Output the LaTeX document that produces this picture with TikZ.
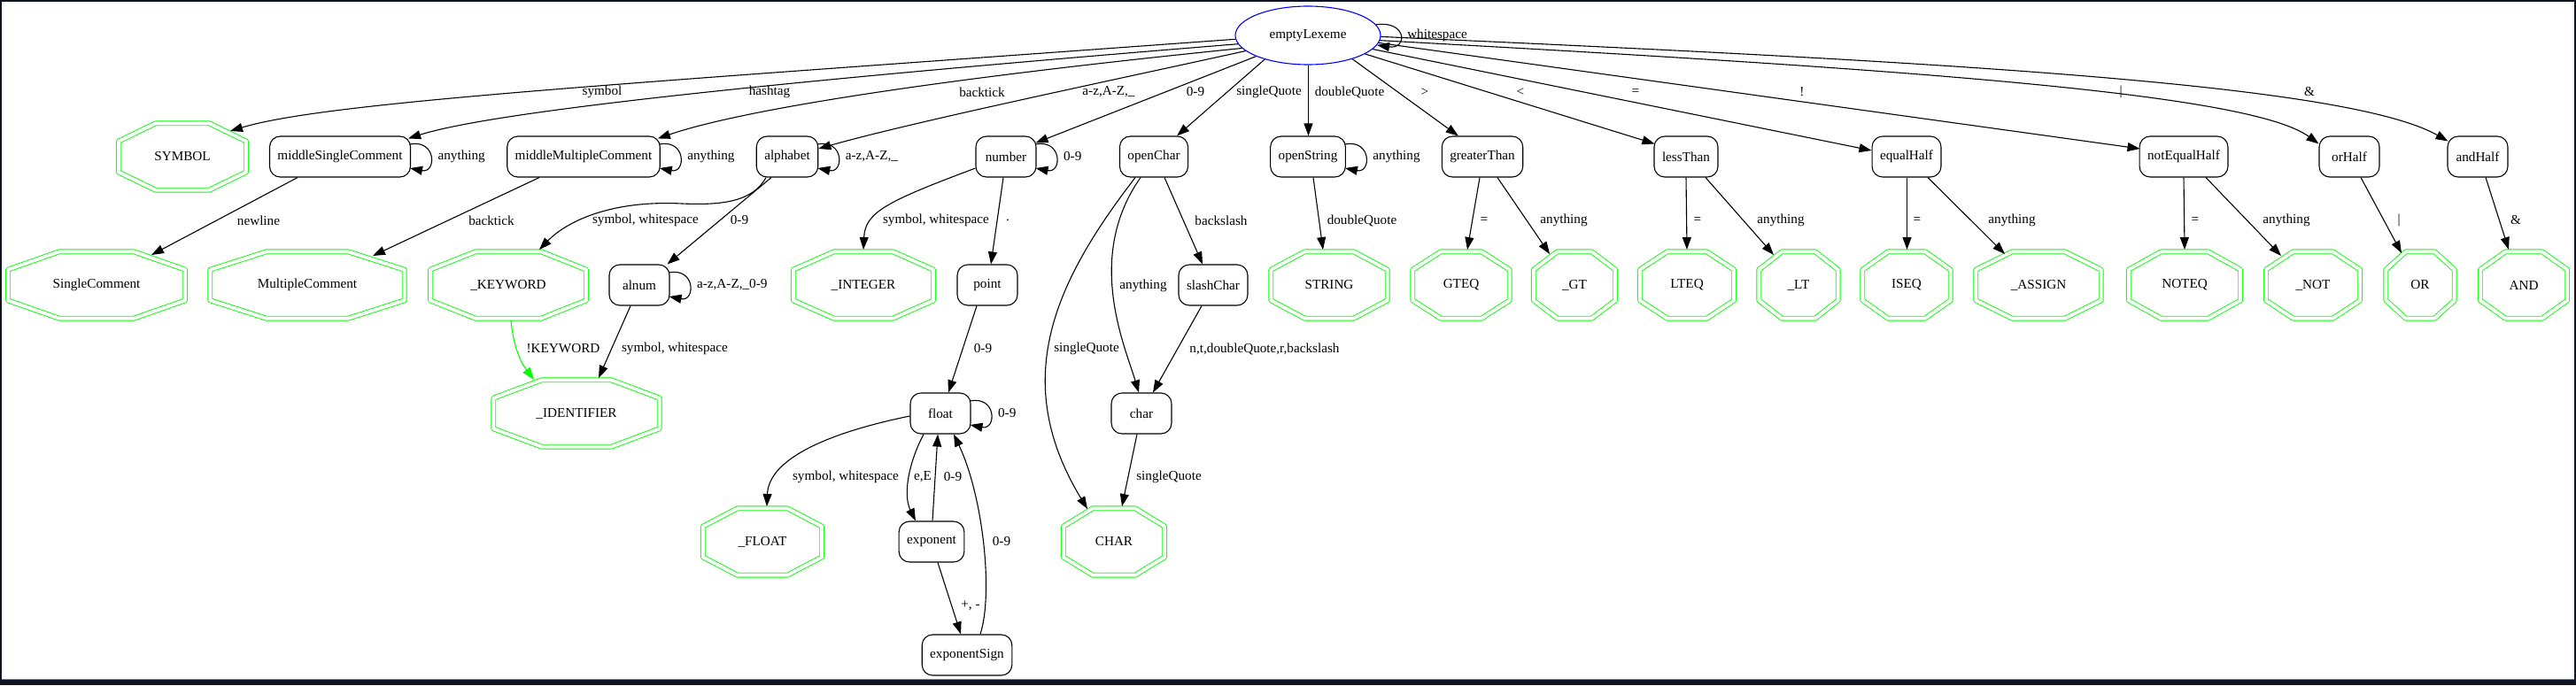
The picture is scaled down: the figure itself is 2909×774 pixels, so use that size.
\documentclass[tikz,border=0pt]{standalone}
\usepackage{fontspec}
\setmainfont{Liberation Serif}
\usetikzlibrary{arrows.meta, calc, shapes.geometric}
\definecolor{framebg}{RGB}{14,20,36}

\begin{document}
\begin{tikzpicture}[x=1pt, y=-1pt,
      font=\fontsize{15.2}{18}\selectfont,
      state/.style={draw, rounded corners=12pt, line width=1.1pt,
                  minimum width=68, minimum height=46, inner xsep=9pt},
      start/.style={draw=blue, ellipse, line width=1.1pt,
                  minimum width=164, minimum height=66},
      final/.style={minimum width=#1, minimum height=75, inner sep=0pt},
      octo/.style={draw=green, double, double distance=4pt, line width=0.9pt, line join=round},
      lbl/.style={inner sep=1pt},
      arr/.style={-{Triangle[length=14pt,width=10pt]}, line width=1.1pt},
]
\useasboundingbox (0,0) rectangle (2909,774);
\fill[framebg] (0,0) rectangle (2909,774);
\fill[white] (2,2) rectangle (2907,767);
\draw[gray, line width=1pt] (2,767.5) -- (2907,767.5);

\node[start] (E) at (1477,40) {emptyLexeme};

% first row
\node[final=144] (sym) at (206,177) {SYMBOL};
\node[state] (msc) at (384,177) {middleSingleComment};
\node[state] (mmc) at (659,177) {middleMultipleComment};
\node[state] (alpha) at (889,177) {alphabet};
\node[state] (num) at (1136,177) {number};
\node[state] (opc) at (1303,177) {openChar};
\node[state] (ops) at (1477,177) {openString};
\node[state] (gt) at (1674,177) {greaterThan};
\node[state] (lt) at (1904,177) {lessThan};
\node[state] (eqh) at (2153,177) {equalHalf};
\node[state] (neh) at (2466,177) {notEqualHalf};
\node[state] (orh) at (2653,177) {orHalf};
\node[state] (andh) at (2798,177) {andHalf};

% second row
\node[final=200] (scom) at (109,322) {SingleComment};
\node[final=219] (mcom) at (347,322) {MultipleComment};
\node[final=176] (kw) at (574,322) {\_KEYWORD};
\node[state] (alnum) at (722,322) {alnum};
\node[final=158] (intg) at (975,322) {\_INTEGER};
\node[state] (point) at (1115,322) {point};
\node[state] (slash) at (1370,322) {slashChar};
\node[final=131] (str) at (1501,322) {STRING};
\node[final=109] (gteq) at (1650,322) {GTEQ};
\node[final=92] (gtf) at (1778,322) {\_GT};
\node[final=106] (lteq) at (1905,322) {LTEQ};
\node[final=89] (ltf) at (2031,322) {\_LT};
\node[final=99] (iseq) at (2153,322) {ISEQ};
\node[final=141] (assign) at (2302,322) {\_ASSIGN};
\node[final=126] (noteq) at (2467,322) {NOTEQ};
\node[final=106] (notf) at (2612,322) {\_NOT};
\node[final=77] (orf) at (2733,322) {OR};
\node[final=98] (andf) at (2850,322) {AND};

% lower rows
\node[final=187] (ident) at (651,467) {\_IDENTIFIER};
\node[state] (flt) at (1062,467) {float};
\node[state] (chr) at (1289,467) {char};
\node[final=134] (fltf) at (861,612) {\_FLOAT};
\node[state] (expo) at (1052,612) {exponent};
\node[final=114] (charf) at (1258,612) {CHAR};
\node[state] (esign) at (1092,740) {exponentSign};

% double octagons of the accepting states
\foreach \n in {sym,scom,mcom,kw,intg,str,gteq,gtf,lteq,ltf,iseq,assign,noteq,notf,orf,andf,ident,fltf,charf}
  \draw[octo] ($(\n.north west)!.29!(\n.north east)$) -- ($(\n.north west)!.71!(\n.north east)$)
    -- ($(\n.north east)!.27!(\n.south east)$) -- ($(\n.north east)!.73!(\n.south east)$)
    -- ($(\n.south west)!.71!(\n.south east)$) -- ($(\n.south west)!.29!(\n.south east)$)
    -- ($(\n.north west)!.73!(\n.south west)$) -- ($(\n.north west)!.27!(\n.south west)$) -- cycle;

% self loops
\draw[arr] (E.9) .. controls +(35,-5) and +(35,5) .. (E.352)
  node[lbl] at (1623,40) {whitespace};
\foreach \n/\t in {msc/anything, mmc/anything, alpha/{a-z,A-Z,\_}, num/0-9,
                   ops/anything, alnum/{a-z,A-Z,\_0-9}, flt/0-9}
  \draw[arr] ($(\n.east)+(-1,-14)$) .. controls +(30,-6) and +(30,6) .. ($(\n.east)+(-1,13)$)
    node[lbl, anchor=west] at ($(\n.east)+(29,0)$) {\t};

% out of emptyLexeme
\draw[arr] (E.183) .. controls (700,95) and (370,115) .. ($(sym)+(54,-29)$)
  node[lbl] at (680,104) {symbol};
\draw[arr] (E.187) .. controls (900,90) and (560,125) .. ($(msc.north east)+(-3,3)$)
  node[lbl] at (869,104) {hashtag};
\draw[arr] (E.191) .. controls (1100,85) and (850,120) .. ($(mmc.north east)+(-3,3)$)
  node[lbl] at (1109,104) {backtick};
\draw[arr] (E.194) .. controls (1250,92) and (1030,138) .. ($(alpha.east)+(0,-9)$)
  node[lbl] at (1252,104) {a-z,A-Z,\_};
\draw[arr] (E.202) -- ($(num.north east)+(-1,8)$) node[lbl] at (1350,104) {0-9};
\draw[arr] (E.209) -- ($(opc.north east)+(-13,0)$) node[lbl] at (1433,104) {singleQuote};
\draw[arr] ($(E.south)+(0.5,0)$) -- ($(ops.north)+(0.5,0)$) node[lbl] at (1524,104) {doubleQuote};
\draw[arr] (E.332) -- ($(gt.north west)+(19,0)$) node[lbl] at (1609,104) {>};
\draw[arr] (E.342) -- ($(lt.north west)+(1,9)$) node[lbl] at (1717,104) {<};
\draw[arr] (E.348) -- ($(eqh.west)+(0,-7)$) node[lbl] at (1847,104) {=};
\draw[arr] (E.354) -- ($(neh.west)+(1,-9)$) node[lbl] at (2035,104) {!};
\draw[arr] (E.356) .. controls (2150,78) and (2540,105) .. ($(orh.north west)+(0,9)$)
  node[lbl] at (2395,104) {|};
\draw[arr] (E.359) .. controls (2200,70) and (2650,95) .. ($(andh.north west)+(1,6)$)
  node[lbl] at (2608,104) {\&};

% first row to second row
\draw[arr] ($(msc.south)+(-48,0)$) -- ($(scom)+(62,-34)$) node[lbl] at (292,249) {newline};
\draw[arr] ($(mmc.south)+(-50,0)$) -- ($(mcom)+(74,-33)$) node[lbl] at (555,249) {backtick};
\draw[arr] ($(alpha.south)+(-24,0)$) .. controls (850,228) and (815,232) .. (770,230)
  .. controls (690,226) and (640,250) .. ($(kw)+(35,-40)$)
  node[lbl] at (729,249) {symbol, whitespace};
\draw[arr] ($(alpha.south)+(-18,0)$) -- ($(alnum.north east)+(-3,0)$) node[lbl] at (835,249) {0-9};
\draw[arr] ($(num.west)+(0,13)$) .. controls (1000,228) and (977,240) .. ($(intg)+(0,-40)$)
  node[lbl] at (1057,249) {symbol, whitespace};
\draw[arr] ($(num.south)+(-3,0)$) -- ($(point.north)+(4,0)$) node[lbl] at (1138,249) {.};
\draw[arr] ($(opc.south)+(-21,0)$) .. controls (1190,320) and (1140,430) .. ($(charf)+(-30,-37)$)
  node[lbl] at (1227,394) {singleQuote};
\draw[arr] ($(opc.south)+(-15,0)$) .. controls (1225,290) and (1270,390) .. ($(chr.north)+(-3,0)$)
  node[lbl] at (1291,323) {anything};
\draw[arr] ($(opc.south)+(12,0)$) -- ($(slash.north)+(-12,0)$) node[lbl] at (1379,249) {backslash};
\draw[arr] ($(ops.south)+(6,0)$) -- ($(str)+(-7,-40)$) node[lbl] at (1538,249) {doubleQuote};
\draw[arr] ($(gt.south)+(-3,0)$) -- ($(gteq)+(7,-40)$) node[lbl] at (1676,249) {=};
\draw[arr] ($(gt.south)+(17,0)$) -- ($(gtf)+(-28,-35)$) node[lbl] at (1766,249) {anything};
\draw[arr] (lt.south) -- ($(lteq)+(0,-40)$) node[lbl] at (1917,249) {=};
\draw[arr] ($(lt.south)+(22,0)$) -- ($(ltf)+(-28,-34)$) node[lbl] at (2011,249) {anything};
\draw[arr] ($(eqh.south)+(0.5,0)$) -- ($(iseq)+(0.5,-40)$) node[lbl] at (2165,249) {=};
\draw[arr] ($(eqh.south)+(24,0)$) -- ($(assign)+(-38,-35)$) node[lbl] at (2272,249) {anything};
\draw[arr] (neh.south) -- ($(noteq)+(0,-40)$) node[lbl] at (2479,249) {=};
\draw[arr] ($(neh.south)+(25,0)$) -- ($(notf)+(-36,-33)$) node[lbl] at (2582,249) {anything};
\draw[arr] ($(orh.south)+(13,0)$) -- ($(orf)+(-21,-36)$) node[lbl] at (2709,249) {|};
\draw[arr] ($(andh.south)+(9,0)$) -- ($(andf)+(-17,-40)$) node[lbl] at (2841,249) {\&};

% second row to third row
\draw[arr, green] ($(kw)+(3,40)$) .. controls (580,395) and (590,412) .. ($(ident)+(-48,-38)$)
  node[lbl, black] at (636,394) {!KEYWORD};
\draw[arr] ($(alnum.south)+(-10,0)$) -- ($(ident)+(25,-40)$) node[lbl] at (762,394) {symbol, whitespace};
\draw[arr] ($(point.south)+(-12,0)$) -- ($(flt.north)+(9,0)$) node[lbl] at (1110,394) {0-9};
\draw[arr] ($(slash.south)+(-13,0)$) -- ($(chr.north)+(13,0)$)
  node[lbl] at (1428,394) {n,t,doubleQuote,r,backslash};

% float and exponent part
\draw[arr] ($(flt.west)+(0,3)$) .. controls (930,490) and (868,520) .. ($(fltf)+(5,-40)$)
  node[lbl] at (955,539) {symbol, whitespace};
\draw[arr] ($(flt.south)+(-19,0)$) .. controls (1025,525) and (1020,560) .. ($(expo.north)+(-18,0)$)
  node[lbl] at (1042,539) {e,E};
\draw[arr] ($(expo.north)+(1,0)$) -- ($(flt.south)+(-3,0)$) node[lbl] at (1076,539) {0-9};
\draw[arr] ($(esign.north)+(15,0)$) .. controls (1122,670) and (1110,560) .. ($(flt.south)+(15,0)$)
  node[lbl] at (1131,612) {0-9};
\draw[arr] ($(expo.south)+(7,0)$) -- ($(esign.north)+(-7,0)$) node[lbl] at (1096,684) {+, -};
\draw[arr] ($(chr.south)+(-5,0)$) -- ($(charf)+(9,-40)$) node[lbl] at (1320,539) {singleQuote};
\end{tikzpicture}
\end{document}
